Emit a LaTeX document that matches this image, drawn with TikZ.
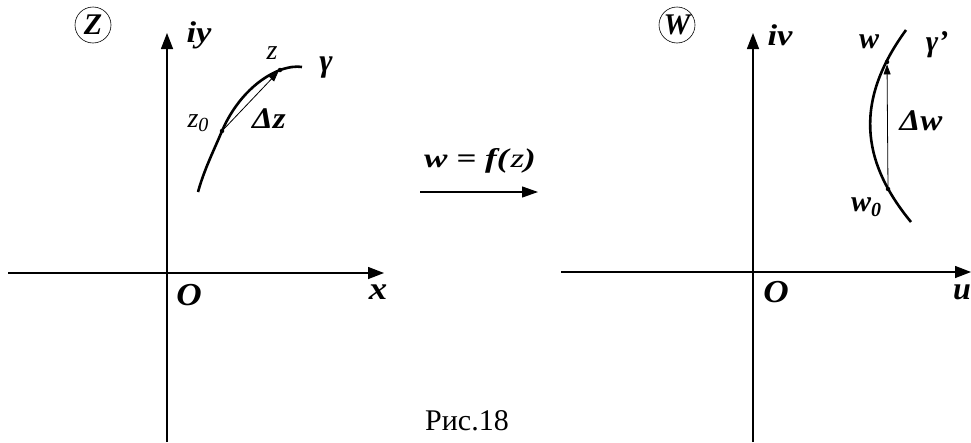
\documentclass[tikz,border=0pt]{standalone}
\usepackage{fontspec}
\setmainfont{Liberation Serif}
\usetikzlibrary{arrows.meta}
\newcommand{\lowidx}[1]{\raisebox{-0.35ex}{\fontsize{20}{22}\selectfont #1}}
\begin{document}
\begin{tikzpicture}[x=1pt,y=-1pt,
  axis/.style={line width=1.4pt,-{Triangle[length=16pt,width=12pt]}},
  curve/.style={line width=2.6pt},
  chord/.style={line width=0.8pt,-{Triangle[length=10pt,width=7pt]}},
  maparrow/.style={line width=1.2pt,-{Triangle[length=16pt,width=11pt]}},
  dot/.style={circle,fill=black,inner sep=0pt,minimum size=4.5pt},
  bi/.style={inner sep=0pt,font=\fontsize{#1}{#1}\selectfont\bfseries\itshape},
  it/.style={inner sep=0pt,font=\fontsize{#1}{#1}\selectfont\itshape},
  plane/.style={circle,draw,line width=0.6pt,inner sep=0pt,minimum size=36pt,
    font=\fontsize{30}{30}\selectfont\bfseries\itshape}]
\useasboundingbox (0,0) rectangle (971,442);

% ---------- left plane Z ----------
\coordinate (LB) at (167,442);
\coordinate (LT) at (167,33);
\coordinate (LL) at (8,273);
\coordinate (LR) at (384,273);
\draw[axis] (LB) -- (LT);
\draw[axis] (LL) -- (LR);
\node[plane] (Zc) at (93,25) {Z};
\node[bi=30] (iy) at (199,35) {\scalebox{1.15}[1]{iy}};
\node[bi=32] (O1) at (189,295) {\scalebox{1.1}[1]{O}};
\node[bi=32] (xl) at (378,292) {\scalebox{1.15}[1]{x}};

\coordinate (cs) at (198,192);
\node[dot] (z0) at (222,131) {};
\node[dot] (z) at (280,70) {};
\coordinate (ce) at (302,67);
\draw[curve] (cs) .. controls (204,170) and (214,150) .. (z0.center)
  .. controls (234,103) and (255,80) .. (z.center)
  .. controls (289,67) and (296,66) .. (ce);
\draw[chord] (z0) -- (z);
\node[it=28] (z0l) at (198,123) {z\lowidx{0}};
\node[it=28] (zl) at (272,53) {z};
\node[bi=30] (dz) at (269,119) {\scalebox{1.1}[1]{Δz}};
\node[bi=32] (gam) at (326,68) {γ};

% ---------- mapping arrow ----------
\coordinate (ma) at (420,192);
\coordinate (mb) at (538,192);
\draw[maparrow] (ma) -- (mb);
\node[bi=27] (map) at (480,161) {\scalebox{1.3}[1]{w = f(\textnormal{\itshape z})}};

% ---------- right plane W ----------
\coordinate (RB) at (753,442);
\coordinate (RT) at (753,33);
\coordinate (RL) at (561,272);
\coordinate (RR) at (971,272);
\draw[axis] (RB) -- (RT);
\draw[axis] (RL) -- (RR);
\node[plane] (Wc) at (677,25) {W};
\node[bi=30] (iv) at (780,35) {\scalebox{1.15}[1]{iv}};
\node[bi=32] (O2) at (776,292) {\scalebox{1.1}[1]{O}};
\node[bi=32,anchor=east] (ul) at (971,292) {u};

\coordinate (ws) at (906,30);
\coordinate (we) at (911,222);
\node[dot] (w) at (887,62) {};
\node[dot] (w0) at (888,189) {};
\draw[curve] (ws) .. controls (855,100) and (860,160) .. (we);
\draw[chord] (w0) -- (w);
\node[bi=30] (wl) at (869,42) {w};
\node[bi=30] (gam2) at (937,45) {γ'};
\node[bi=30] (dw) at (921,121) {\scalebox{1.1}[1]{Δw}};
\node[bi=30] (w0l) at (866,207) {w\lowidx{0}};

% ---------- caption ----------
\node[inner sep=0pt,font=\fontsize{30}{30}\selectfont] (cap) at (467,421) {Рис.18};
\end{tikzpicture}
\end{document}
